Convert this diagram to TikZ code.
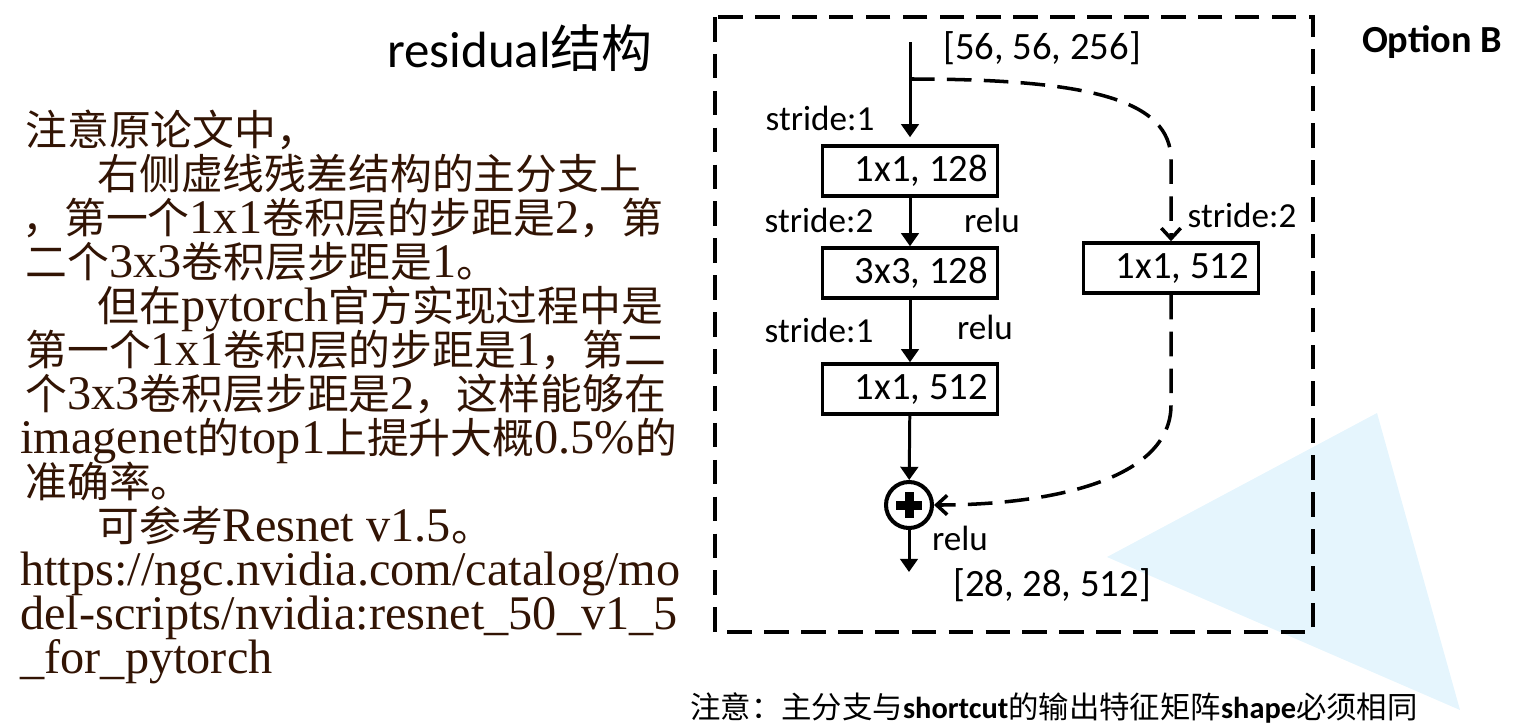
\documentclass[tikz,border=0pt]{standalone}
\usepackage{fontspec}
\setmainfont{Carlito}
\newfontfamily\cjk{Noto Sans CJK SC}
\newfontfamily\notelatin{Liberation Serif}
\newfontfamily\notecjk{Noto Sans CJK SC}[Scale=0.866]
\usetikzlibrary{arrows.meta}
\definecolor{notebrown}{RGB}{50,20,4}
\definecolor{glassblue}{RGB}{229,245,253}
\newcommand{\zh}[1]{{\notecjk #1}}

\begin{document}
\begin{tikzpicture}[x=0.02cm, y=-0.02cm,
  convbox/.style={draw, line width=2pt, minimum width=3.5cm, minimum height=1cm, inner sep=0pt,
    font=\fontsize{22}{24}\selectfont, execute at begin node=\hspace*{0.45cm}},
  lbl/.style={inner sep=0pt, font=\fontsize{20}{22}\selectfont},
  dims/.style={inner sep=0pt, font=\fontsize{22}{24}\selectfont},
  flow/.style={line width=1.7pt, -{Triangle[width=10pt,length=7.5pt]}},
  shortcut/.style={line width=2pt, dash pattern=on 14pt off 7pt,
    -{Straight Barb[width=11pt,length=6pt,line width=2pt]}},
  frame/.style={line width=2.3pt, dash pattern=on 14pt off 7pt},
  plusnode/.style={circle, draw, line width=2.3pt, minimum size=0.92cm, inner sep=0pt},
  noteline/.style={anchor=base west, inner sep=0pt, text=notebrown,
    font=\notelatin\fontsize{27.5}{30}\selectfont}]
\useasboundingbox (0,0) rectangle (1513,727);

% background shape
\fill[glassblue] (1107,557) -- (1377,413) -- (1460,710) -- cycle;

% left notes
\node[noteline] (n1) at (25,145) {\zh{注意原论文中，}};
\node[noteline] (n2) at (97,189) {\zh{右侧虚线残差结构的主分支上}};
\node[noteline] (n3) at (22,233) {\zh{，第一个}1x1\zh{卷积层的步距是}2\zh{，第}};
\node[noteline] (n4) at (25,277) {\zh{二个}3x3\zh{卷积层步距是}1\zh{。}};
\node[noteline] (n5) at (97,321) {\zh{但在}pytorch\zh{官方实现过程中是}};
\node[noteline] (n6) at (25,365) {\zh{第一个}1x1\zh{卷积层的步距是}1\zh{，第二}};
\node[noteline] (n7) at (25,409) {\zh{个}3x3\zh{卷积层步距是}2\zh{，这样能够在}};
\node[noteline] (n8) at (20,453) {imagenet\zh{的}top1\zh{上提升大概}0.5\%\zh{的}};
\node[noteline] (n9) at (25,497) {\zh{准确率。}};
\node[noteline] (n10) at (97,541) {\zh{可参考}Resnet v1.5\zh{。}};
\node[noteline] (n11) at (20,585) {https://ngc.nvidia.com/catalog/mo};
\node[noteline] (n12) at (20,629) {del-scripts/nvidia:resnet\_50\_v1\_5};
\node[noteline] (n13) at (20,673) {\_for\_pytorch};

% titles
\node[font=\fontsize{29}{32}\selectfont] (title) at (520,48) {residual{\cjk 结构}};
\node[font=\bfseries\fontsize{21.8}{24}\selectfont] (opt) at (1432,42) {Option B};
\node[font=\fontsize{17.3}{20}\selectfont] (remark) at (1054,708)
  {{\cjk 注意：主分支与}\textbf{shortcut}{\cjk 的输出特征矩阵}\textbf{shape}{\cjk 必须相同}};

% block frame
\draw[frame] (715,17) rectangle (1313,632);

% main branch
\coordinate (in) at (910,42);
\coordinate (split) at (910,79);
\node[convbox] (c1) at (910,171) {1x1, 128};
\node[convbox] (c2) at (910,273) {3x3, 128};
\node[convbox] (c3) at (910,389) {1x1, 512};
\node[plusnode] (sum) at (909,505) {};
\fill ([shift={(-13,-4.5)}]sum.center) rectangle ([shift={(13,4.5)}]sum.center);
\fill ([shift={(-4.5,-13)}]sum.center) rectangle ([shift={(4.5,13)}]sum.center);
\coordinate (out) at (909,572);

\draw[flow, shorten >=4pt] (in) -- (c1);
\draw[flow] (c1) -- (c2);
\draw[flow] (c2) -- (c3);
\draw[flow] (c3) -- (sum);
\draw[flow] (sum) -- (out);

% shortcut branch
\node[convbox] (proj) at (1171,268) {1x1, 512};
\coordinate (turnA) at (1171,160);
\coordinate (turnB) at (1171,405);
\draw[shortcut] (split) .. controls (1090,79) and (1171,100) .. (turnA) -- (proj);
\draw[shortcut] (proj) -- (turnB) .. controls (1171,480) and (1050,505) .. (sum);

% labels
\node[dims] (inshape) at (1042,48) {[56, 56, 256]};
\node[dims] (outshape) at (1052,585) {[28, 28, 512]};
\node[lbl] (s1) at (820,118) {stride:1};
\node[lbl] (s2) at (819,220) {stride:2};
\node[lbl] (r1) at (992,220) {relu};
\node[lbl] (s3) at (819,330) {stride:1};
\node[lbl] (r2) at (985,327) {relu};
\node[lbl] (r3) at (960,538) {relu};
\node[lbl] (s4) at (1242,215) {stride:2};
\end{tikzpicture}
\end{document}
